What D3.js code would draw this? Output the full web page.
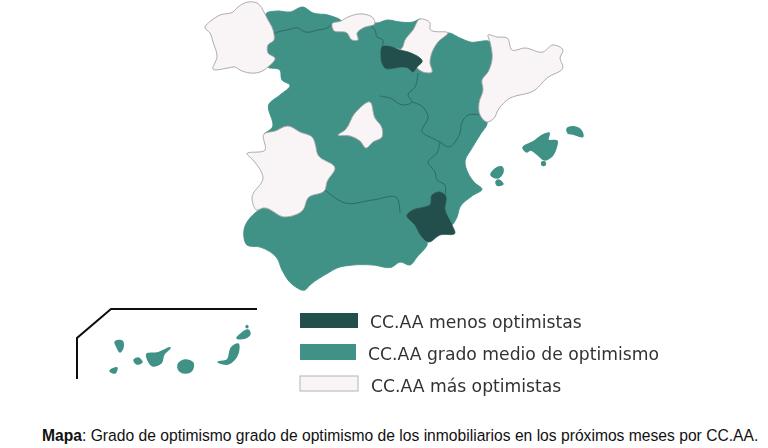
<!DOCTYPE html>
<html><head><meta charset="utf-8">
<script src="https://cdn.jsdelivr.net/npm/d3@7/dist/d3.min.js"></script>
<style>html,body{margin:0;padding:0;background:#fff}svg{display:block}</style>
</head><body><svg id="c" width="768" height="448"></svg>
<script>
// Hand-traced map geometry: sheet grid in km (east, south) from the NW corner of the sheet.
const galicia=[[615,84],[636,60],[660,45],[699,36],[714,21],[744,6],[771,9],[795,42],[804,60],[816,81],[822,102],[822,120],[804,135],[804,159],[825,174],[804,201],[780,216],[750,219],[720,210],[705,201],[684,204],[639,207],[651,171],[639,126],[630,99]];
const asturias=[[798,42],[831,33],[870,36],[909,21],[939,39],[984,45],[1023,63],[996,72],[981,84],[954,90],[915,96],[894,84],[861,90],[834,96],[822,102],[816,81],[804,60]];
const cantabria=[[1023,63],[1044,51],[1089,42],[1119,54],[1125,69],[1089,84],[1071,99],[1074,120],[1056,120],[1041,99],[1000,90],[996,72]];
const paisVasco=[[1125,69],[1131,69],[1161,60],[1200,66],[1239,66],[1260,57],[1239,90],[1215,120],[1206,144],[1176,141],[1146,141],[1149,120],[1131,111],[1125,90],[1110,75]];
const rioja=[[1146,141],[1176,141],[1200,150],[1224,156],[1266,186],[1251,201],[1239,216],[1224,204],[1200,201],[1185,204],[1155,204],[1146,189],[1143,165]];
const navarra=[[1260,57],[1290,69],[1290,87],[1344,99],[1314,126],[1299,150],[1290,189],[1296,216],[1269,216],[1251,201],[1266,186],[1224,156],[1200,150],[1206,144],[1215,120],[1239,90]];
const castillaLeon=[[822,102],[834,96],[861,90],[894,84],[915,96],[954,90],[981,84],[996,72],[1000,90],[1041,99],[1056,120],[1074,120],[1071,99],[1089,84],[1110,75],[1125,90],[1131,111],[1149,120],[1146,141],[1143,165],[1146,189],[1155,204],[1185,204],[1200,201],[1224,204],[1239,216],[1251,201],[1254,219],[1245,261],[1224,285],[1236,306],[1209,315],[1170,294],[1140,288],[1110,306],[1065,339],[1035,390],[1014,405],[981,414],[945,429],[939,414],[900,396],[864,378],[825,393],[792,402],[816,384],[807,312],[840,285],[870,255],[846,240],[840,210],[804,201],[825,174],[804,159],[804,135],[822,120]];
const aragon=[[1344,99],[1380,114],[1410,126],[1470,126],[1476,180],[1464,216],[1446,240],[1449,270],[1437,309],[1440,345],[1404,345],[1386,366],[1380,399],[1344,441],[1320,426],[1296,414],[1266,396],[1284,351],[1269,321],[1236,306],[1224,285],[1245,261],[1254,219],[1251,201],[1269,216],[1296,216],[1290,189],[1299,150],[1314,126]];
const cataluna=[[1464,105],[1491,111],[1521,114],[1536,150],[1575,144],[1629,156],[1659,135],[1689,150],[1680,174],[1689,201],[1641,234],[1605,270],[1521,300],[1491,336],[1485,351],[1461,366],[1440,345],[1437,309],[1449,270],[1446,240],[1464,216],[1476,180],[1470,126]];
const valencia=[[1440,345],[1461,366],[1440,405],[1416,444],[1395,486],[1404,519],[1425,549],[1446,567],[1416,588],[1380,621],[1371,651],[1356,675],[1335,630],[1335,585],[1335,555],[1311,540],[1305,516],[1284,486],[1311,459],[1320,426],[1344,441],[1380,399],[1386,366],[1404,345]];
const murcia=[[1221,645],[1239,630],[1275,621],[1290,615],[1296,585],[1320,576],[1335,585],[1335,630],[1356,675],[1365,699],[1320,705],[1284,726],[1266,711],[1245,675]];
const extremadura=[[741,462],[795,450],[792,402],[825,393],[864,378],[900,396],[939,414],[945,429],[954,465],[1005,504],[981,546],[975,570],[924,594],[909,630],[855,651],[789,624],[771,630],[756,594],[789,534],[759,480]];
const castillaMancha=[[945,429],[981,414],[1014,405],[1050,408],[1080,423],[1098,444],[1119,426],[1146,411],[1146,384],[1125,354],[1110,306],[1140,288],[1170,294],[1209,315],[1236,306],[1269,321],[1284,351],[1266,396],[1296,414],[1320,426],[1311,459],[1284,486],[1305,516],[1311,540],[1335,555],[1335,585],[1320,576],[1296,585],[1290,615],[1275,621],[1239,630],[1221,645],[1200,639],[1191,594],[1119,600],[1035,609],[975,570],[981,546],[1005,504],[954,465]];
const madrid=[[1110,306],[1125,354],[1146,384],[1146,411],[1119,426],[1098,444],[1080,423],[1050,408],[1014,405],[1035,390],[1065,339]];
const andalucia=[[732,690],[765,639],[789,624],[855,651],[909,630],[924,594],[975,570],[1035,609],[1119,600],[1191,594],[1200,639],[1221,645],[1245,675],[1266,711],[1281,726],[1251,771],[1230,795],[1200,786],[1176,801],[1119,795],[1059,795],[1011,804],[984,819],[930,855],[915,870],[879,855],[846,810],[831,774],[780,741],[741,735]];
const mallorca=[[1569,444],[1599,426],[1635,402],[1647,399],[1644,420],[1671,423],[1668,444],[1653,471],[1635,480],[1611,462],[1590,450],[1581,456]];
const cabrera=[[1626,486],[1635,486],[1635,495],[1626,495]];
const menorca=[[1701,387],[1725,381],[1746,396],[1749,408],[1719,402],[1704,399]];
const ibiza=[[1473,525],[1485,507],[1506,501],[1509,516],[1491,534]];
const formentera=[[1488,546],[1494,540],[1509,552],[1491,555]];
const laPalma=[[345,1026],[366,1023],[369,1041],[360,1056],[351,1041]];
const gomera=[[402,1080],[414,1074],[426,1086],[411,1092]];
const hierro=[[330,1113],[351,1104],[345,1119]];
const tenerife=[[441,1062],[471,1059],[510,1044],[492,1062],[483,1089],[459,1098]];
const granCanaria=[[534,1095],[555,1080],[579,1089],[576,1110],[555,1119],[537,1110]];
const fuerteventura=[[654,1086],[681,1080],[696,1041],[714,1032],[714,1059],[684,1092]];
const lanzarote=[[711,1014],[726,999],[744,990],[750,999],[735,1014]];
const graciosa=[[739,978],[743,978],[743,982],[739,982]];

// Interior borders between regions of the same class
const bordersInner=[
 [[822,102],[834,96],[861,90],[894,84],[915,96],[954,90],[981,84],[996,72]],
 [[1110,75],[1125,90],[1131,111],[1149,120],[1146,141]],
 [[1254,219],[1245,261],[1224,285],[1236,306],[1209,315],[1170,294],[1140,288]],
 [[1236,306],[1269,321],[1284,351],[1266,396],[1296,414],[1320,426],[1344,441],[1380,399],[1386,366],[1404,345],[1440,345]],
 [[1320,426],[1311,459],[1284,486],[1305,516],[1311,540],[1335,555],[1335,585]],
 [[975,570],[1035,609],[1119,600],[1191,594],[1200,639]]
];
const insetFrame=[[231,1137],[231,1014],[333,927],[771,927]];

const classes=["menos","medio","mas"];
const classColors=["#24504c","#3f9186","#f9f5f6"];
const regionsMenos=[rioja,murcia];
const regionsMedio=[asturias,paisVasco,castillaLeon,aragon,valencia,castillaMancha,andalucia];
const islands=[mallorca,cabrera,menorca,ibiza,formentera,laPalma,gomera,hierro,tenerife,granCanaria,fuerteventura,lanzarote,graciosa];
const regionsMas=[galicia,cantabria,navarra,cataluna,extremadura,madrid];
const legendLabels=["CC.AA menos optimistas","CC.AA grado medio de optimismo","CC.AA más optimistas"];
const captionBold="Mapa";
const captionRest=": Grado de optimismo grado de optimismo de los inmobiliarios en los próximos meses por CC.AA.";

const svg=d3.select("#c");
const color=d3.scaleOrdinal(classes,classColors);
const x=d3.scaleLinear([0,2304],[0,768]), y=d3.scaleLinear([0,1344],[0,448]);
const closed=d3.line().x(d=>x(d[0])).y(d=>y(d[1])).curve(d3.curveCatmullRomClosed.alpha(1));
const open=d3.line().x(d=>x(d[0])).y(d=>y(d[1])).curve(d3.curveCatmullRom.alpha(1));
const straight=d3.line().x(d=>x(d[0])).y(d=>y(d[1]));
const defs=svg.append("defs");
defs.append("filter").attr("id","soft").attr("x","-5%").attr("y","-5%").attr("width","110%").attr("height","110%")
  .append("feGaussianBlur").attr("stdDeviation",0.45);
const map=svg.append("g").attr("filter","url(#soft)");

function drawClass(cls,list,stroke,w){
  map.append("g").selectAll("path").data(list).join("path")
    .attr("d",closed).attr("fill",color(cls))
    .attr("stroke",stroke).attr("stroke-width",w).attr("stroke-linejoin","round");
}
drawClass("medio",regionsMedio,color("medio"),0.9);
drawClass("medio",islands,color("medio"),1.5);
map.append("g").selectAll("path").data(bordersInner).join("path")
  .attr("d",open).attr("fill","none").attr("stroke","#2b6660").attr("stroke-width",0.9);
drawClass("mas",regionsMas,"#a5a3a4",0.9);
drawClass("menos",regionsMenos,color("menos"),0.7);
map.append("path").attr("d",straight(insetFrame))
  .attr("fill","none").attr("stroke","#111").attr("stroke-width",2);

// Legend
const legendLayout=[{x:300,y:313,w:58,h:15,tx:370,ty:322},{x:300,y:344,w:56,h:16,tx:368,ty:354},{x:300,y:376,w:58,h:15,tx:371,ty:386}];
const leg=svg.append("g").attr("filter","url(#soft)").selectAll("g").data(classes).join("g");
leg.append("rect").attr("x",(d,i)=>legendLayout[i].x).attr("y",(d,i)=>legendLayout[i].y)
  .attr("width",(d,i)=>legendLayout[i].w).attr("height",(d,i)=>legendLayout[i].h)
  .attr("fill",d=>color(d)).attr("stroke",d=>d==="mas"?"#b5b3b4":"none").attr("stroke-width",1);
leg.append("text").attr("x",(d,i)=>legendLayout[i].tx).attr("y",(d,i)=>legendLayout[i].ty)
  .attr("dy","0.35em").attr("font-family","DejaVu Sans").attr("font-size",17.2).attr("fill","#333")
  .text((d,i)=>legendLabels[i]);

// Caption
const cap=svg.append("text").attr("x",42).attr("y",441).attr("font-family","Liberation Sans").attr("font-size",15.65).attr("fill","#111");
cap.append("tspan").attr("font-weight","bold").text(captionBold);
cap.append("tspan").text(captionRest);
</script></body></html>
